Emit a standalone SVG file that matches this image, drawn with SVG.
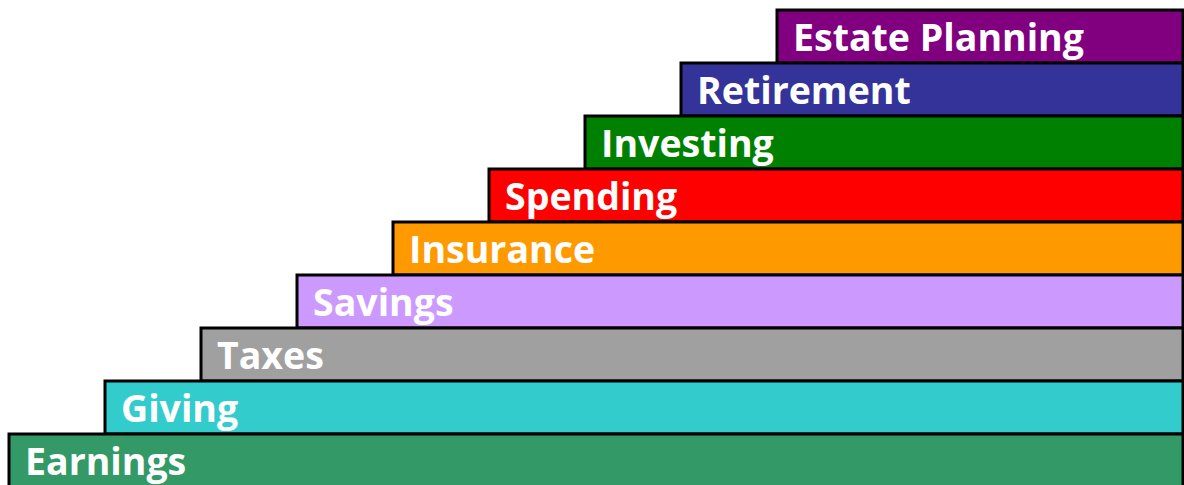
<svg xmlns="http://www.w3.org/2000/svg" width="1184" height="485" viewBox="0 0 1184 485">
<style>
rect.step{stroke:#000;stroke-width:3}
text{font-family:"Open Sans","Noto Sans","DejaVu Sans",sans-serif;font-weight:bold;font-size:37.5px;fill:#fff}
</style>
<rect width="1184" height="485" fill="#fff"/>
<g id="estate-planning"><rect class="step" x="777" y="10" width="406" height="53" fill="#800080"/><text x="793" y="51">Estate Planning</text></g>
<g id="retirement"><rect class="step" x="681" y="63" width="502" height="53" fill="#333399"/><text x="697" y="104">Retirement</text></g>
<g id="investing"><rect class="step" x="585" y="116" width="598" height="53" fill="#008000"/><text x="601" y="157">Investing</text></g>
<g id="spending"><rect class="step" x="489" y="169" width="694" height="53" fill="#FF0000"/><text x="505" y="210">Spending</text></g>
<g id="insurance"><rect class="step" x="393" y="222" width="790" height="53" fill="#FF9900"/><text x="409" y="263">Insurance</text></g>
<g id="savings"><rect class="step" x="297" y="275" width="886" height="53" fill="#CC99FF"/><text x="313" y="316">Savings</text></g>
<g id="taxes"><rect class="step" x="201" y="328" width="982" height="53" fill="#A0A0A0"/><text x="217" y="369">Taxes</text></g>
<g id="giving"><rect class="step" x="105" y="381" width="1078" height="53" fill="#33CCCC"/><text x="121" y="422">Giving</text></g>
<g id="earnings"><rect class="step" x="9" y="434" width="1174" height="53" fill="#339966"/><text x="25" y="475">Earnings</text></g>
<g id="connectors"></g>
</svg>
